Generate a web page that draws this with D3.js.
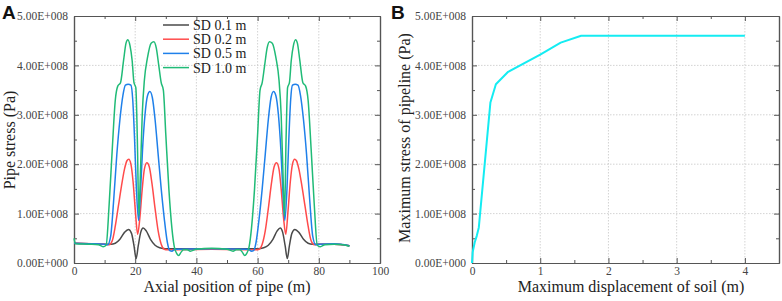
<!DOCTYPE html>
<html><head><meta charset="utf-8">
<script src="https://cdn.jsdelivr.net/npm/d3@7/dist/d3.min.js"></script>
<style>body{margin:0;background:#fff}svg{display:block}
.tk text{font-family:'Liberation Serif','Times New Roman',serif;font-size:11.5px;fill:#444}
</style>
</head><body>
<svg id="chart" width="782" height="301"></svg>
<script>
// ---------- DATA (stress in units of 1e8 Pa) ----------
const seriesNames = ["SD 0.1 m", "SD 0.2 m", "SD 0.5 m", "SD 1.0 m"];
const seriesColors = ["#4a4a4a", "#ff4b4b", "#1f80ea", "#20bb77"];

const sd01 = [[0,0.40],[5,0.39],[10,0.38],[12,0.38],[13.5,0.40],[15,0.48],[16.5,0.62],[17.8,0.68],[18.8,0.60],[19.6,0.35],[20.3,0.09],[21.0,0.35],[21.8,0.62],[22.6,0.71],[23.6,0.65],[25,0.48],[26.5,0.36],[28,0.31],[30,0.29],[45,0.29],
  [60,0.29],[62,0.31],[63.5,0.36],[65,0.48],[66.4,0.65],[67.4,0.71],[68.2,0.62],[69.0,0.35],[69.7,0.09],[70.4,0.35],[71.2,0.60],[72.2,0.68],[73.5,0.62],[75,0.48],[76.5,0.40],[78,0.38],[80,0.38],[85,0.38],[90,0.35]];

const sd02 = [[0,0.40],[10,0.38],[11.5,0.37],[12.5,0.45],[13.5,0.75],[14.5,1.15],[15.5,1.55],[16.5,1.90],[17.3,2.07],[17.9,2.10],[18.6,2.00],[19.3,1.65],[20.0,1.10],[20.8,0.58],[21.5,0.90],[22.3,1.50],[23.0,1.90],[23.8,2.03],[24.6,1.95],[25.5,1.60],[26.5,1.10],[27.5,0.65],[28.5,0.38],[29.5,0.28],[30.5,0.27],[45,0.28],
  [59.5,0.27],[60.5,0.28],[61.5,0.38],[62.5,0.65],[63.5,1.10],[64.5,1.60],[65.4,1.95],[66.2,2.03],[67.0,1.90],[67.7,1.50],[68.5,0.90],[69.2,0.58],[70.0,1.10],[70.7,1.65],[71.4,2.00],[72.1,2.10],[72.7,2.07],[73.5,1.90],[74.5,1.55],[75.5,1.15],[76.5,0.75],[77.5,0.45],[78.5,0.37],[80,0.38],[85,0.38],[90,0.35]];

const sd05 = [[0,0.40],[5,0.39],[10,0.38],[11,0.37],[12,0.55],[13,1.30],[14,2.20],[15,2.90],[16,3.40],[16.8,3.60],[17.7,3.62],[18.6,3.60],[19.2,3.30],[19.8,2.50],[20.4,1.50],[21.1,0.86],[21.7,1.40],[22.4,2.30],[23.2,3.00],[24.0,3.38],[24.8,3.47],[25.6,3.35],[26.5,2.90],[27.5,2.20],[28.5,1.50],[29.5,0.90],[30.5,0.42],[31.3,0.25],[32,0.24],[33,0.28],[45,0.29],
  [57,0.28],[58,0.24],[58.7,0.25],[59.5,0.42],[60.5,0.90],[61.5,1.50],[62.5,2.20],[63.5,2.90],[64.4,3.35],[65.2,3.47],[66.0,3.38],[66.8,3.00],[67.6,2.30],[68.3,1.40],[68.9,0.86],[69.6,1.50],[70.2,2.50],[70.8,3.30],[71.4,3.60],[72.3,3.62],[73.2,3.60],[74.0,3.40],[75.0,2.90],[76.0,2.20],[77.0,1.30],[78.0,0.55],[79.0,0.37],[80,0.38],[85,0.39],[90,0.35]];

const sd10 = [[0,0.50],[0.5,0.39],[5,0.38],[8,0.37],[9.5,0.33],[10.5,0.36],[11.5,1.20],[12.5,2.30],[13.5,3.30],[14.3,3.58],[15.2,3.65],[16.2,4.10],[17.0,4.45],[17.6,4.52],[18.3,4.40],[19.0,4.10],[19.6,3.65],[20.2,3.55],[20.7,2.50],[21.2,0.95],[21.7,1.80],[22.3,3.00],[23.0,3.70],[24.0,4.15],[25.2,4.45],[26.1,4.48],[26.9,4.35],[27.7,4.00],[28.5,3.65],[29.2,3.50],[30.0,2.60],[31.0,1.50],[32.0,0.70],[32.8,0.32],[33.5,0.20],[34.2,0.15],[35.0,0.22],[35.8,0.27],[37,0.27],[38,0.24],[40,0.28],[45,0.30],
  [50,0.28],[52,0.24],[53,0.27],[54.2,0.27],[55.0,0.22],[55.8,0.15],[56.5,0.20],[57.2,0.32],[58.0,0.70],[59.0,1.50],[60.0,2.60],[60.8,3.50],[61.5,3.65],[62.3,4.00],[63.1,4.35],[63.9,4.48],[64.8,4.45],[66.0,4.15],[67.0,3.70],[67.7,3.00],[68.3,1.80],[68.8,0.95],[69.3,2.50],[69.8,3.55],[70.4,3.65],[71.0,4.10],[71.7,4.40],[72.4,4.52],[73.0,4.45],[73.8,4.10],[74.8,3.65],[75.7,3.58],[76.5,3.30],[77.5,2.30],[78.5,1.20],[79.5,0.36],[80.5,0.33],[82,0.37],[85,0.38],[88,0.37],[90,0.34]];

const panelASeries = [sd01, sd02, sd05, sd10];

const soilDisp = [0, 0.01, 0.04, 0.07, 0.10, 0.27, 0.35, 0.53, 1.0, 1.3, 1.6, 4.0];
const maxStress = [0, 0.22, 0.42, 0.55, 0.72, 3.25, 3.62, 3.87, 4.22, 4.46, 4.60, 4.60];

const yTickLabels = ["0.00E+000","1.00E+008","2.00E+008","3.00E+008","4.00E+008","5.00E+008"];
const xTicksA = [0,20,40,60,80,100];
const xTicksB = [0,1,2,3,4];

// ---------- DRAW ----------
const svg = d3.select("#chart");
const axisColor = "#555";
const serif = "'Liberation Serif','Times New Roman',serif";

function panel(cfg){
  const {left,right,top,bottom,xDomain,xMajor,xMinor} = cfg;
  const x = d3.scaleLinear().domain(xDomain).range([left,right]);
  const y = d3.scaleLinear().domain([0,5]).range([bottom,top]);
  const g = svg.append("g");
  const yMajor = d3.range(0,6,1), yMinor = d3.range(0.5,5,1);
  // grid
  g.append("g").selectAll("line").data(xMajor.filter(v=>v>xDomain[0]&&v<xDomain[1])).join("line")
    .attr("x1",d=>x(d)).attr("x2",d=>x(d)).attr("y1",top).attr("y2",bottom)
    .attr("stroke","#c8c8c8").attr("stroke-width",0.8).attr("stroke-dasharray","1.5,1.5");
  g.append("g").selectAll("line").data(yMajor.filter(v=>v>0&&v<5)).join("line")
    .attr("x1",left).attr("x2",right).attr("y1",d=>y(d)).attr("y2",d=>y(d))
    .attr("stroke","#c8c8c8").attr("stroke-width",0.8).attr("stroke-dasharray","1.5,1.5");
  // axes
  const style = sel => { sel.attr("class","tk").attr("font-family",null).attr("font-size",null);
    sel.select(".domain").attr("stroke",axisColor).attr("stroke-width",1.2);
    sel.selectAll(".tick line").attr("stroke",axisColor).attr("stroke-width",1); };
  g.append("g").attr("transform",`translate(0,${bottom})`)
    .call(d3.axisBottom(x).tickValues(xMajor).tickSizeInner(-5).tickSizeOuter(0).tickPadding(4).tickFormat(d3.format("d"))).call(style);
  g.append("g").attr("transform",`translate(0,${bottom})`)
    .call(d3.axisBottom(x).tickValues(xMinor).tickSizeInner(-3).tickSizeOuter(0).tickFormat("")).call(style);
  g.append("g").attr("transform",`translate(0,${top})`)
    .call(d3.axisTop(x).tickValues(xMajor).tickSizeInner(-5).tickSizeOuter(0).tickFormat("")).call(style);
  g.append("g").attr("transform",`translate(0,${top})`)
    .call(d3.axisTop(x).tickValues(xMinor).tickSizeInner(-3).tickSizeOuter(0).tickFormat("")).call(style);
  g.append("g").attr("transform",`translate(${left},0)`)
    .call(d3.axisLeft(y).tickValues(yMajor).tickSizeInner(-5).tickSizeOuter(0).tickPadding(6).tickFormat((d,i)=>yTickLabels[i])).call(style);
  g.append("g").attr("transform",`translate(${left},0)`)
    .call(d3.axisLeft(y).tickValues(yMinor).tickSizeInner(-3).tickSizeOuter(0).tickFormat("")).call(style);
  g.append("g").attr("transform",`translate(${right},0)`)
    .call(d3.axisRight(y).tickValues(yMajor).tickSizeInner(-5).tickSizeOuter(0).tickFormat("")).call(style);
  g.append("g").attr("transform",`translate(${right},0)`)
    .call(d3.axisRight(y).tickValues(yMinor).tickSizeInner(-3).tickSizeOuter(0).tickFormat("")).call(style);
  return {x,y,g};
}

// Panel A
const A = panel({left:74,right:380,top:16,bottom:263,xDomain:[0,100],xMajor:xTicksA,xMinor:d3.range(10,100,20)});
const lineA = d3.line().x(d=>A.x(d[0])).y(d=>A.y(d[1])).curve(d3.curveMonotoneX);
panelASeries.forEach((s,i)=>{
  A.g.append("path").datum(s).attr("d",lineA).attr("fill","none")
    .attr("stroke",seriesColors[i]).attr("stroke-width",1.5).attr("stroke-linejoin","round");
});
// legend
seriesNames.forEach((n,i)=>{
  const yy = 25 + i*14.2;
  A.g.append("line").attr("x1",163).attr("x2",189).attr("y1",yy).attr("y2",yy)
    .attr("stroke",seriesColors[i]).attr("stroke-width",1.5);
  A.g.append("text").attr("x",193).attr("y",yy).attr("dy","0.35em").text(n)
    .attr("font-family",serif).attr("font-size",14).attr("fill","#222");
});
svg.append("text").attr("x",227).attr("y",292).attr("text-anchor","middle").text("Axial position of pipe (m)")
  .attr("font-family",serif).attr("font-size",16).attr("fill","#222");
svg.append("text").attr("transform","translate(15,140) rotate(-90)").attr("text-anchor","middle").text("Pipe stress (Pa)")
  .attr("font-family",serif).attr("font-size",16).attr("fill","#222");
svg.append("text").attr("x",2).attr("y",19).text("A")
  .attr("font-family","'Liberation Sans',Arial,sans-serif").attr("font-weight","bold").attr("font-size",19).attr("fill","#111");

// Panel B
const B = panel({left:472,right:779,top:16,bottom:263,xDomain:[0,4.5],xMajor:xTicksB,xMinor:d3.range(0.5,4.5,1)});
const lineB = d3.line().x(d=>B.x(d[0])).y(d=>B.y(d[1]));
B.g.append("path").datum(soilDisp.map((v,i)=>[v,maxStress[i]])).attr("d",lineB).attr("fill","none")
  .attr("stroke","#14ecf2").attr("stroke-width",2).attr("stroke-linejoin","round");
svg.append("text").attr("x",631).attr("y",292).attr("text-anchor","middle").text("Maximum displacement of soil (m)")
  .attr("font-family",serif).attr("font-size",16).attr("fill","#222");
svg.append("text").attr("transform","translate(410,138) rotate(-90)").attr("text-anchor","middle").text("Maximum stress of pipeline (Pa)")
  .attr("font-family",serif).attr("font-size",16).attr("fill","#222");
svg.append("text").attr("x",391).attr("y",19).text("B")
  .attr("font-family","'Liberation Sans',Arial,sans-serif").attr("font-weight","bold").attr("font-size",19).attr("fill","#111");
</script>
</body></html>
